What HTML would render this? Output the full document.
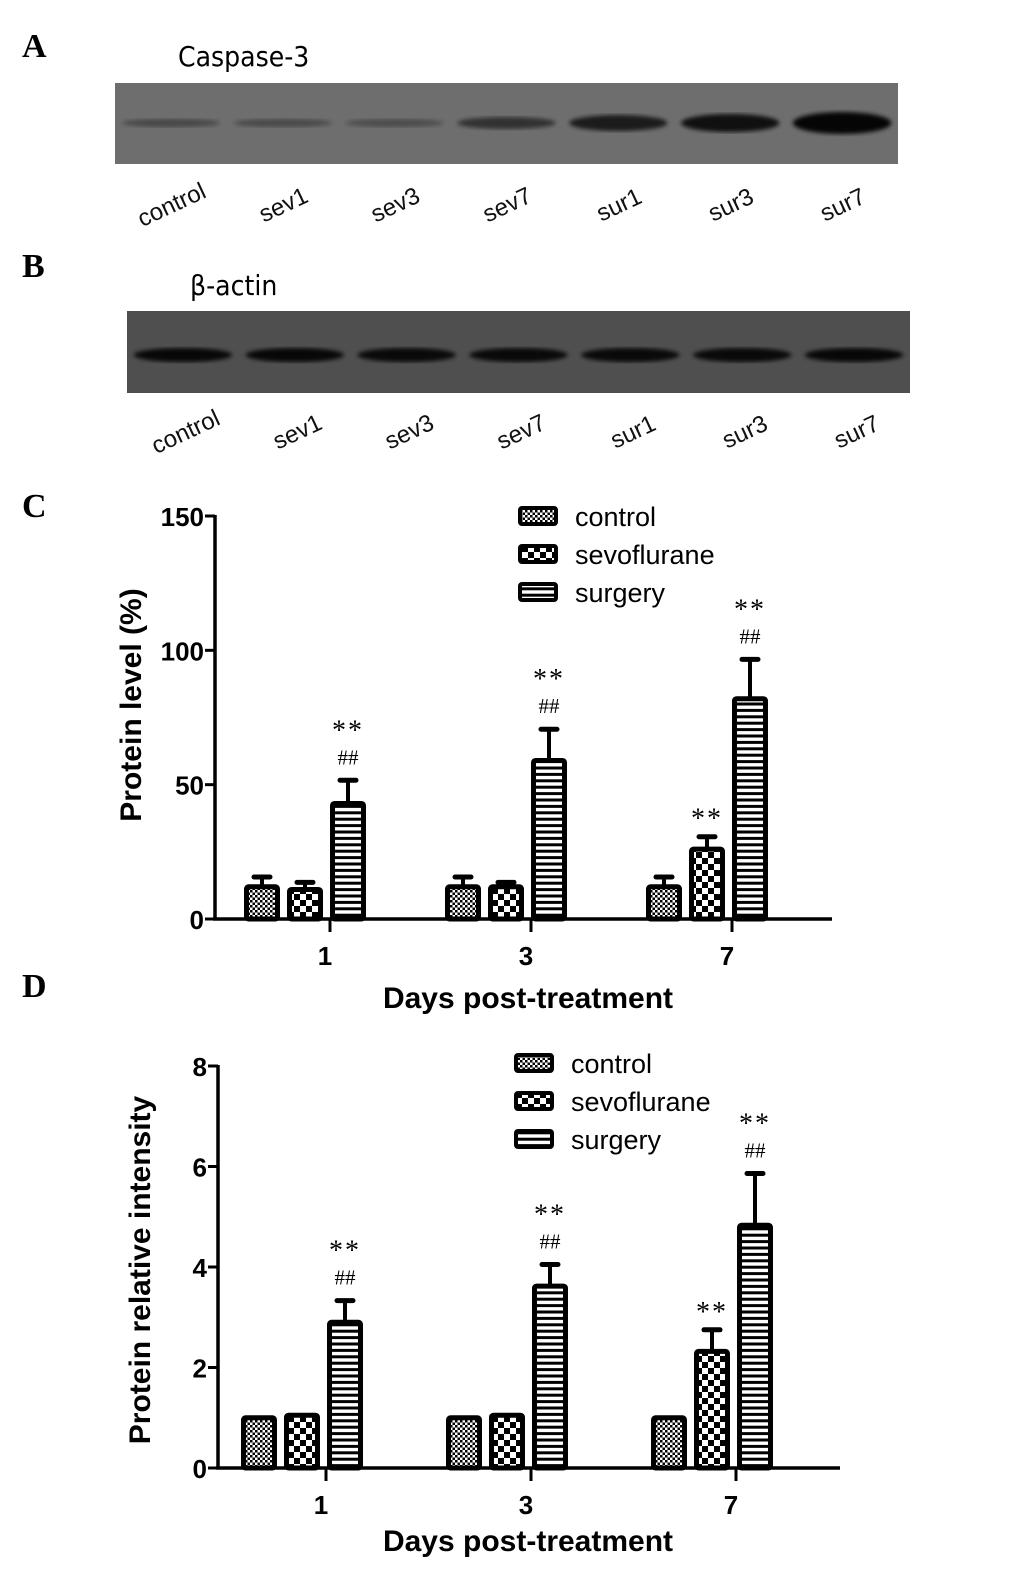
<!DOCTYPE html>
<html><head><meta charset="utf-8">
<style>
html,body{margin:0;padding:0;background:#fff;}
svg{display:block;}
.lbl{font-family:"Liberation Serif",serif;font-weight:bold;font-size:34px;}
.lane{font-family:"Liberation Sans",sans-serif;font-size:24px;fill:#111;}
.tick{font-family:"Liberation Sans",sans-serif;font-weight:bold;font-size:26px;}
.title{font-family:"Liberation Sans",sans-serif;font-size:30px;font-weight:bold;}
.leg{font-family:"Liberation Sans",sans-serif;font-size:27px;}
.ann{font-family:"Liberation Serif",serif;}
</style></head>
<body>
<svg id="fig" width="1033" height="1581" viewBox="0 0 1033 1581" xmlns="http://www.w3.org/2000/svg">
<defs>
<pattern id="pCtrl" width="5" height="5" patternUnits="userSpaceOnUse"><rect width="5" height="5" fill="#fff"/><rect width="2.5" height="2.5" fill="#000"/><rect x="2.5" y="2.5" width="2.5" height="2.5" fill="#000"/></pattern>
<pattern id="pSev" width="12" height="12" patternUnits="userSpaceOnUse"><rect width="12" height="12" fill="#fff"/><rect width="6" height="6" fill="#000"/><rect x="6" y="6" width="6" height="6" fill="#000"/></pattern>
<pattern id="pSur" width="12" height="6.4" patternUnits="userSpaceOnUse"><rect width="12" height="6.4" fill="#000"/><rect y="1.5" width="12" height="3.4" fill="#fff"/></pattern>
<filter id="blur"><feGaussianBlur stdDeviation="2.2"/></filter>
</defs>

<text class="lbl" x="22" y="57">A</text>
<text class="lbl" x="22" y="277">B</text>
<text class="lbl" x="22" y="517">C</text>
<text class="lbl" x="22" y="997">D</text>

<g id="blotA">
<text x="178" y="66" style="font-family:'DejaVu Sans Condensed','Liberation Sans',sans-serif;font-size:28px">Caspase-3</text>
<rect x="115" y="83" width="783" height="81" fill="#6e6e6e"/>
</g>
<g id="blotB">
<text x="190" y="295" style="font-family:'DejaVu Sans Condensed','Liberation Sans',sans-serif;font-size:28px">β-actin</text>
<rect x="127" y="311" width="783" height="82" fill="#4f4f4f"/>
</g>

<g id="chartC"></g>
<g id="chartD"></g>
</svg>
<script>
// Blot data
const lanes = ["control","sev1","sev3","sev7","sur1","sur3","sur7"];
const bandA = [0.35,0.33,0.3,0.55,0.75,0.85,0.95];
const bandAThick = [4,4,4,6,8,9,11];
const bandB = [0.9,0.9,0.88,0.88,0.88,0.88,0.9];

// Chart C data
const groupsC = ["1","3","7"];
const seriesNames = ["control","sevoflurane","surgery"];
const cControl = [12,12,12];
const cSev = [11,12,26];
const cSur = [43,59,82];
const cControlErr = [4,4,4];
const cSevErr = [3,2,5];
const cSurErr = [9,12,15];
const cTicks = [0,50,100,150];
const cStar = [[false,false,true],[false,false,true],[false,true,true]];
const cHash = [[false,false,true],[false,false,true],[false,false,true]];

// Chart D data
const groupsD = ["1","3","7"];
const dControl = [1.0,1.0,1.0];
const dSev = [1.05,1.05,2.32];
const dSur = [2.9,3.62,4.83];
const dControlErr = [0,0,0];
const dSevErr = [0,0,0.45];
const dSurErr = [0.45,0.45,1.05];
const dTicks = [0,2,4,6,8];
const dStar = [[false,false,true],[false,false,true],[false,true,true]];
const dHash = [[false,false,true],[false,false,true],[false,false,true]];

const NS = "http://www.w3.org/2000/svg";
function mk(parent, tag, attrs, text){
  const e = document.createElementNS(NS, tag);
  for (const k in attrs) e.setAttribute(k, attrs[k]);
  if (text !== undefined) e.textContent = text;
  parent.appendChild(e);
  return e;
}

function drawBlot(gid, x0, y0, w, bandY, vals, thick, labelDX, labelDY){
  const g = document.getElementById(gid);
  const lw = w / lanes.length;
  lanes.forEach((ln, i) => {
    const cx = x0 + lw*(i+0.5);
    const band = mk(g, "ellipse", {cx: cx, cy: bandY, rx: lw*0.44, ry: thick[i], fill: "#000", opacity: vals[i], filter: "url(#blur)"});
    
    
    const t = mk(g, "text", {class: "lane", x: cx + labelDX, y: labelDY, "text-anchor": "middle", transform: "rotate(-25 " + (cx+labelDX) + " " + labelDY + ")"}, ln);
    
    
  });
}
drawBlot("blotA", 115, 83, 783, 123, bandA, bandAThick, 4, 212);
drawBlot("blotB", 127, 311, 783, 355, bandB, [7,7,7,7,7,7,7], 6, 439);

function drawChart(gid, cfg){
  const g = document.getElementById(gid);
  const y = v => cfg.y0 - v / cfg.ymax * (cfg.y0 - cfg.yTop);
  const series = [cfg.ctrl, cfg.sev, cfg.sur];
  const errs = [cfg.ctrlErr, cfg.sevErr, cfg.surErr];
  const fills = ["url(#pCtrl)","url(#pSev)","url(#pSur)"];
  const barW = 31, gap = 12;
  cfg.groups.forEach((gl, gi) => {
    const gc = cfg.xStart + gi * cfg.groupStep;
    series.forEach((s, si) => {
      const bx = gc + (si - 1) * (barW + gap) - barW/2;
      const top = y(s[gi]);
      if (errs[si][gi] > 0){
        const et = y(s[gi] + errs[si][gi]);
        const el = mk(g, "line", {x1: bx+barW/2, x2: bx+barW/2, y1: top, y2: et, stroke: "#000", "stroke-width": 4});
        
        
        const cap = mk(g, "line", {x1: bx+barW/2-8, x2: bx+barW/2+8, y1: et+1, y2: et+1, stroke: "#000", "stroke-width": 5, "stroke-linecap": "round"});
        
        
      }
      const r = mk(g, "rect", {x: bx, y: top, width: barW, height: cfg.y0 - top, fill: fills[si], stroke: "#000", "stroke-width": 5, rx: 2});
      
      
      const topE = y(s[gi] + errs[si][gi]);
      if (cfg.hash[gi][si]){
        const h = mk(g, "text", {class: "ann", x: bx+barW/2, y: topE - 15, "text-anchor": "middle", style: "font-size:21px"}, "##");
        
        
      }
      if (cfg.star[gi][si]){
        const off = cfg.hash[gi][si] ? 40 : 8;
        const st = mk(g, "text", {class: "ann", x: bx+barW/2, y: topE - off, "text-anchor": "middle", style: "font-size:28px;letter-spacing:2px"}, "**");
        
        
      }
    });
    const tk = mk(g, "line", {x1: gc + cfg.tickOff, x2: gc + cfg.tickOff, y1: cfg.y0, y2: cfg.y0 + 13, stroke: "#000", "stroke-width": 3});
    
    
    const tl = mk(g, "text", {class: "tick", x: gc + cfg.tickOff - 5, y: cfg.y0 + 46, "text-anchor": "middle"}, gl);
    
    
  });
  const ya = mk(g, "line", {x1: cfg.xAxis, x2: cfg.xAxis, y1: cfg.yTop - 1, y2: cfg.y0 + 1.5, stroke: "#000", "stroke-width": 3.5});
  
  
  const xa = mk(g, "line", {x1: cfg.xAxis - 2, x2: cfg.xEnd, y1: cfg.y0, y2: cfg.y0, stroke: "#000", "stroke-width": 3.5});
  
  
  cfg.ticks.forEach(t => {
    const yy = y(t);
    const l = mk(g, "line", {x1: cfg.xAxis - 10, x2: cfg.xAxis, y1: yy, y2: yy, stroke: "#000", "stroke-width": 3});
    
    
    const tx = mk(g, "text", {class: "tick", x: cfg.xAxis - 11, y: yy + 10, "text-anchor": "end"}, String(t));
    
    
  });
  const xt = mk(g, "text", {class: "title", x: cfg.xTitleX, y: cfg.xTitleY, "text-anchor": "middle"}, "Days post-treatment");
  
  
  const yt = mk(g, "text", {class: "title", x: cfg.yTitleX, y: cfg.yTitleY, "text-anchor": "middle", transform: "rotate(-90 " + cfg.yTitleX + " " + cfg.yTitleY + ")"}, cfg.yTitle);
  
  
  seriesNames.forEach((n, i) => {
    const ly = cfg.legY + i * 38;
    const sw = mk(g, "rect", {x: cfg.legX, y: ly, width: 36, height: 16, fill: fills[i], stroke: "#000", "stroke-width": 4, rx: 2});
    
    
    const lt = mk(g, "text", {class: "leg", x: cfg.legX + 55, y: ly + 18}, n);
    
    
  });
}

drawChart("chartC", {groups: groupsC, ctrl: cControl, sev: cSev, sur: cSur, ctrlErr: cControlErr, sevErr: cSevErr, surErr: cSurErr,
  ticks: cTicks, ymax: 150, y0: 919, yTop: 516, xAxis: 215, xEnd: 832, xStart: 305, groupStep: 201, tickOff: 25,
  star: cStar, hash: cHash, xTitleX: 528, xTitleY: 1008, yTitleX: 141, yTitleY: 705, yTitle: "Protein level (%)", legX: 520, legY: 508});

drawChart("chartD", {groups: groupsD, ctrl: dControl, sev: dSev, sur: dSur, ctrlErr: dControlErr, sevErr: dSevErr, surErr: dSurErr,
  ticks: dTicks, ymax: 8, y0: 1468, yTop: 1066, xAxis: 218, xEnd: 840, xStart: 302, groupStep: 205, tickOff: 24,
  star: dStar, hash: dHash, xTitleX: 528, xTitleY: 1551, yTitleX: 150, yTitleY: 1270, yTitle: "Protein relative intensity", legX: 516, legY: 1055});
</script>
</body></html>
